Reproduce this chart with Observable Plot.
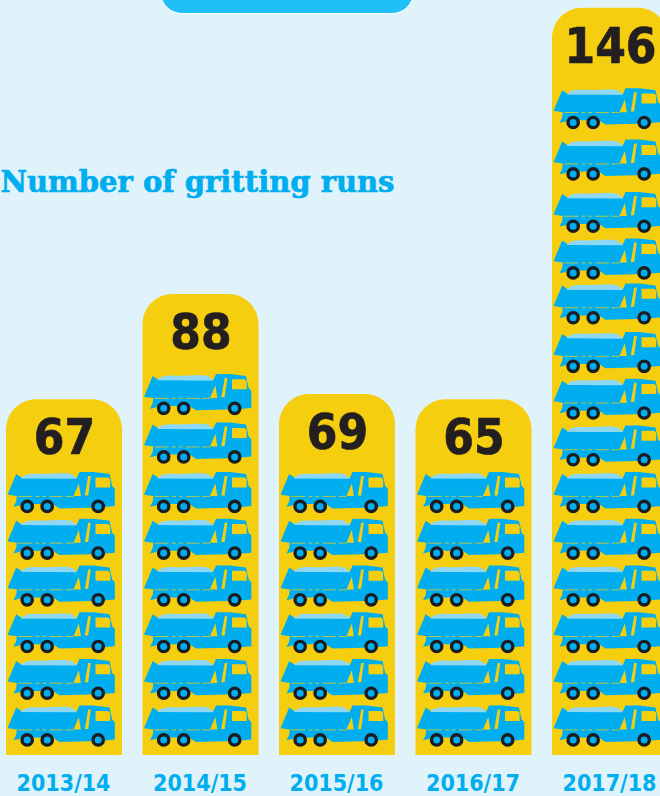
<!DOCTYPE html>
<html>
<head>
<meta charset="utf-8">
<script src="https://cdn.jsdelivr.net/npm/d3@7"></script>
<script src="https://cdn.jsdelivr.net/npm/@observablehq/plot@0.6"></script>
<style>
html,body{margin:0;padding:0;background:#e0f3fb;overflow:hidden}
#chart{position:relative;width:660px;height:796px}
#pill{position:absolute;left:160px;top:-30px;width:252px;height:42px;background:#1fc0f5;border:1.5px solid #fff;border-radius:0 0 22px 22px}
svg{display:block}
</style>
</head>
<body>
<div id="chart"><div id="pill"></div></div>
<script>
const seasons = ["2013/14","2014/15","2015/16","2016/17","2017/18"];
const runs = [67, 88, 69, 65, 146];
const barHeights = [7.62, 9.87, 7.73, 7.62, 16.0];
const truckRows = [
  [0, 1, 2, 3, 4, 5],
  [0, 1, 2, 3, 4, 5, 6.06, 7.1],
  [0, 1, 2, 3, 4, 5],
  [0, 1, 2, 3, 4, 5],
  [0, 1, 2, 3, 4, 5, 6, 7, 8, 9.04, 10, 11, 12.12, 13.22]
];
const chartTitle = "Number of gritting runs";

const Y = "#f5cf0f", B = "#00aeef", L = "#8ed8f5", K = "#1c1c20";
const truckSvg = `<svg xmlns='http://www.w3.org/2000/svg' viewBox='24 245 324 125'>
<path fill='${B}' d='M24,314L50,252L68,264H232L240,246H282L330,252L338,288L346,296V348L300,352L180,355L160,342H66L60,346L42,350L50,334L52,318Z'/>
<path fill='${L}' d='M64,265C72,253 90,250 115,251C150,253 180,247 212,251C222,254 228,260 232,266Z'/>
<path fill='${Y}' d='M288,262H326L332,268V292H288ZM222,318L238,280L244,318ZM256,316L266,258L274,258L266,316Z'/>
<path stroke='${Y}' stroke-width='3' stroke-opacity='0.75' stroke-dasharray='42 10 12 8 12 10 40 8' d='M56,319H222'/>
<g fill='${B}' stroke='${K}' stroke-width='10'><circle cx='83' cy='349' r='15.5'/><circle cx='143' cy='349' r='15.5'/><circle cx='296' cy='349' r='15.5'/></g>
</svg>`;
const truckSrc = "data:image/svg+xml;utf8," + encodeURIComponent(truckSvg);

const bars = seasons.map((season, i) => ({season, runs: runs[i], height: barHeights[i]}));
const trucks = seasons.flatMap((season, i) => truckRows[i].map(row => ({season, row})));

const chart = Plot.plot({
  width: 660, height: 796,
  marginTop: 0, marginRight: 0, marginBottom: 41, marginLeft: 0,
  style: {background: "transparent", overflow: "hidden"},
  x: {type: "band", domain: seasons, range: [6, 668], paddingInner: 0.15, paddingOuter: 0, round: false, label: null},
  y: {domain: [0, 755 / 46.7], range: [755, 0], axis: null},
  marks: [
    Plot.barY(bars, {x: "season", y: "height", fill: Y, ry1: 30}),
    Plot.image(trucks, {x: "season", y: d => d.row + 0.63, dx: -3, src: () => truckSrc, width: 108, height: 42}),
    Plot.text(bars, {x: "season", y: "height", text: d => String(d.runs), dy: 39, fill: "#231f20", stroke: "#231f20", strokeWidth: 0.7,
      fontFamily: "DejaVu Sans Condensed", fontWeight: 700, fontSize: 49}),
    Plot.axisX({tickSize: 0, tickPadding: 19, dx: -1, fill: B, fontFamily: "DejaVu Sans Condensed", fontWeight: 700, fontSize: 23, label: null}),
    Plot.text([chartTitle], {frameAnchor: "top-left", dx: 0, dy: 171, textAnchor: "start", fill: B, stroke: B, strokeWidth: 0.7,
      fontFamily: "DejaVu Serif", fontWeight: 700, fontSize: 29})
  ]
});
document.getElementById("chart").appendChild(chart);
</script>
</body>
</html>
